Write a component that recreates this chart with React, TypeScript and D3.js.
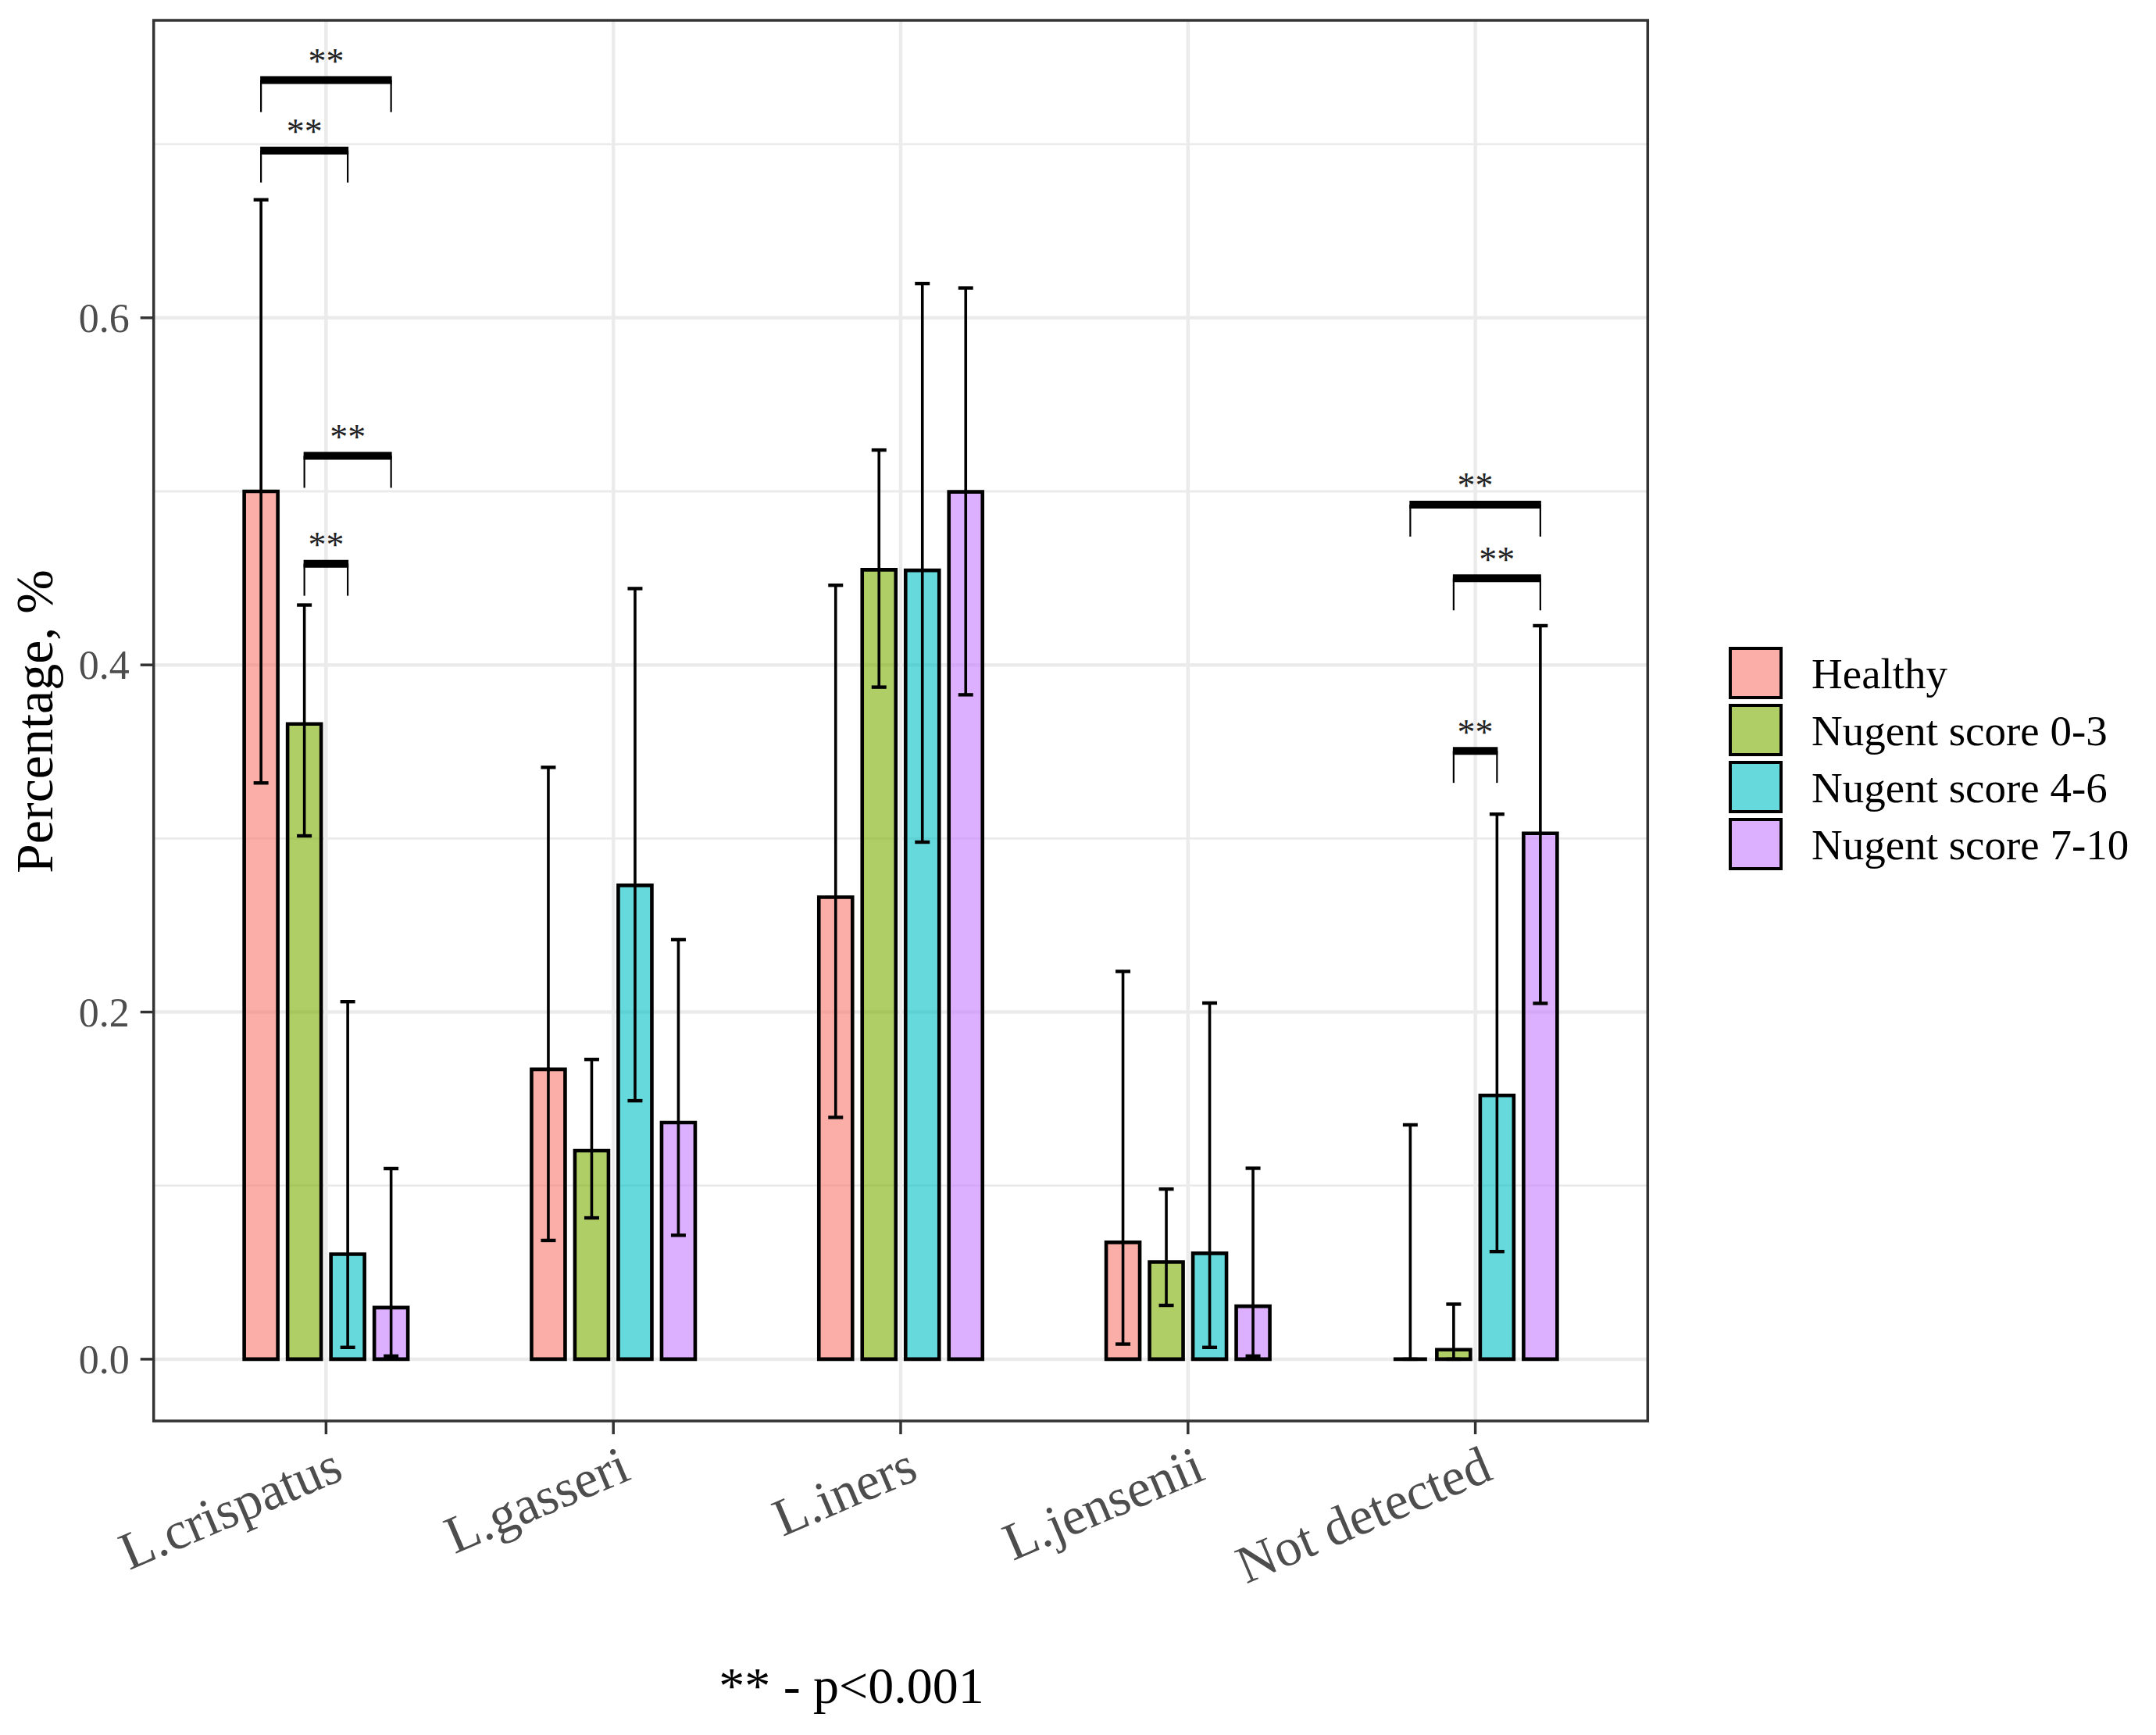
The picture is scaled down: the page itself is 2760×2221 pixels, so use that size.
import * as d3 from "d3";

// categories on the x axis
const categories = ["L.crispatus", "L.gasseri", "L.iners", "L.jensenii", "Not detected"];
// groups (fill legend)
const groups = ["Healthy", "Nugent score 0-3", "Nugent score 4-6", "Nugent score 7-10"];
const groupColors = ["#F8766D", "#7CAE00", "#00BFC4", "#C77CFF"];

// bar heights, one array per group, in category order
const healthy = [0.5, 0.167, 0.2662, 0.0673, 0];
const nugent03 = [0.366, 0.1201, 0.4548, 0.056, 0.0055];
const nugent46 = [0.0605, 0.273, 0.4545, 0.061, 0.152];
const nugent710 = [0.0297, 0.1363, 0.4997, 0.0305, 0.303];

// error bar limits
const healthyLow = [0.332, 0.0684, 0.1393, 0.0087, 0];
const healthyHigh = [0.668, 0.341, 0.4459, 0.2234, 0.135];
const nugent03Low = [0.3015, 0.0814, 0.3872, 0.031, 0];
const nugent03High = [0.4345, 0.1727, 0.5238, 0.098, 0.0317];
const nugent46Low = [0.0068, 0.1489, 0.2979, 0.0068, 0.062];
const nugent46High = [0.206, 0.444, 0.6197, 0.2052, 0.314];
const nugent710Low = [0.0018, 0.0714, 0.3828, 0.0018, 0.205];
const nugent710High = [0.1098, 0.2417, 0.6172, 0.11, 0.4226];

const values = [healthy, nugent03, nugent46, nugent710];
const lows = [healthyLow, nugent03Low, nugent46Low, nugent710Low];
const highs = [healthyHigh, nugent03High, nugent46High, nugent710High];

// significance brackets: category, from group, to group, height, label
const brackets = [
  { cat: "L.crispatus", from: "Healthy", to: "Nugent score 7-10", y: 0.737, label: "**" },
  { cat: "L.crispatus", from: "Healthy", to: "Nugent score 4-6", y: 0.6964, label: "**" },
  { cat: "L.crispatus", from: "Nugent score 0-3", to: "Nugent score 7-10", y: 0.5205, label: "**" },
  { cat: "L.crispatus", from: "Nugent score 0-3", to: "Nugent score 4-6", y: 0.4583, label: "**" },
  { cat: "Not detected", from: "Healthy", to: "Nugent score 7-10", y: 0.4924, label: "**" },
  { cat: "Not detected", from: "Nugent score 0-3", to: "Nugent score 7-10", y: 0.4499, label: "**" },
  { cat: "Not detected", from: "Nugent score 0-3", to: "Nugent score 4-6", y: 0.3505, label: "**" },
];

const majorTicks = [0, 0.2, 0.4, 0.6];
const minorTicks = [0.1, 0.3, 0.5, 0.7];

const W = 2760;
const H = 2221;
const FONT = "'Liberation Serif', 'Times New Roman', serif";

export default function App() {
  const panel = { left: 196.7, right: 2109.3, top: 26, bottom: 1819 };
  const step = (panel.right - panel.left) / 5.2;

  const x = d3
    .scalePoint<string>()
    .domain(categories)
    .range([panel.left + 0.6 * step, panel.right - 0.6 * step]);
  const xInner = d3.scaleBand<string>().domain(groups).range([-111, 111]);
  const y = d3.scaleLinear().domain([-0.0356, 0.7714]).range([panel.bottom, panel.top]);

  const barW = 43;
  const capW = 19;
  const gx = (cat: string, g: string) => (x(cat) ?? 0) + (xInner(g) ?? 0) + xInner.bandwidth() / 2;

  return (
    <svg
      width={W}
      height={H}
      style={{ position: "absolute", left: 0, top: 0, background: "#fff" }}
      fontFamily={FONT}
    >
      <rect width={W} height={H} fill="#fff" />

      {/* grid */}
      {minorTicks.map((t) => (
        <line key={"mn" + t} x1={panel.left} x2={panel.right} y1={y(t)} y2={y(t)} stroke="#ebebeb" strokeWidth={2.8} />
      ))}
      {majorTicks.map((t) => (
        <line key={"mj" + t} x1={panel.left} x2={panel.right} y1={y(t)} y2={y(t)} stroke="#ebebeb" strokeWidth={4.5} />
      ))}
      {categories.map((c) => (
        <line key={"vg" + c} x1={x(c)} x2={x(c)} y1={panel.top} y2={panel.bottom} stroke="#ebebeb" strokeWidth={4.5} />
      ))}

      {/* bars */}
      {groups.map((g, gi) =>
        categories.map((c, ci) => {
          const cx = gx(c, g);
          const y0 = y(0);
          const y1 = y(values[gi][ci]);
          const p = d3.path();
          p.moveTo(cx - barW / 2, y0);
          p.lineTo(cx - barW / 2, y1);
          p.lineTo(cx + barW / 2, y1);
          p.lineTo(cx + barW / 2, y0);
          p.closePath();
          return (
            <path
              key={"b" + gi + ci}
              d={p.toString()}
              fill={groupColors[gi]}
              fillOpacity={0.6}
              stroke="#000"
              strokeWidth={4.6}
            />
          );
        })
      )}

      {/* error bars */}
      {groups.map((g, gi) =>
        categories.map((c, ci) => {
          const cx = gx(c, g);
          const lo = y(lows[gi][ci]);
          const hi = y(highs[gi][ci]);
          return (
            <g key={"e" + gi + ci} stroke="#000" strokeWidth={3.6}>
              <line x1={cx} x2={cx} y1={lo} y2={hi} />
              <line x1={cx - capW / 2} x2={cx + capW / 2} y1={hi} y2={hi} strokeWidth={4.4} />
              <line x1={cx - capW / 2} x2={cx + capW / 2} y1={lo} y2={lo} strokeWidth={4.4} />
            </g>
          );
        })
      )}

      {/* significance brackets */}
      {brackets.map((b, i) => {
        const x1 = gx(b.cat, b.from);
        const x2 = gx(b.cat, b.to);
        const by = y(b.y);
        return (
          <g key={"s" + i}>
            <line x1={x1} x2={x1} y1={by} y2={by + 41} stroke="#000" strokeWidth={2.2} />
            <line x1={x2} x2={x2} y1={by} y2={by + 41} stroke="#000" strokeWidth={2.2} />
            <line x1={x1 - 1} x2={x2 + 1} y1={by} y2={by} stroke="#000" strokeWidth={10} />
            <text x={(x1 + x2) / 2} y={by - 8.5} textAnchor="middle" fontSize={46} fill="#222">
              {b.label}
            </text>
          </g>
        );
      })}

      {/* panel border */}
      <rect
        x={panel.left}
        y={panel.top}
        width={panel.right - panel.left}
        height={panel.bottom - panel.top}
        fill="none"
        stroke="#333"
        strokeWidth={3.5}
      />

      {/* y axis */}
      {majorTicks.map((t) => (
        <g key={"yt" + t}>
          <line x1={panel.left - 17} x2={panel.left} y1={y(t)} y2={y(t)} stroke="#333" strokeWidth={3.5} />
          <text x={panel.left - 31} y={y(t)} dy="0.35em" textAnchor="end" fontSize={52} fill="#4d4d4d">
            {d3.format(".1f")(t)}
          </text>
        </g>
      ))}
      <text
        transform={`translate(67, ${(panel.top + panel.bottom) / 2 + 1}) rotate(-90)`}
        textAnchor="middle"
        fontSize={68}
        fill="#000"
      >
        Percentage, %
      </text>

      {/* x axis */}
      {categories.map((c) => {
        const tx = x(c) ?? 0;
        const ax = tx + 6;
        const ay = panel.bottom + 30;
        return (
          <g key={"xt" + c}>
            <line x1={tx} x2={tx} y1={panel.bottom} y2={panel.bottom + 17} stroke="#333" strokeWidth={3.5} />
            <text
              x={ax}
              y={ay}
              dy="0.7em"
              textAnchor="end"
              fontSize={68}
              fill="#4d4d4d"
              transform={`rotate(-23, ${ax}, ${ay})`}
            >
              {c}
            </text>
          </g>
        );
      })}

      {/* legend */}
      {groups.map((g, gi) => {
        const top = 830 + gi * 73;
        return (
          <g key={"lg" + g}>
            <rect x={2215} y={top} width={65} height={63} fill={groupColors[gi]} fillOpacity={0.6} stroke="#000" strokeWidth={4} />
            <text x={2319} y={top + 31.5} dy="0.36em" fontSize={55} fill="#000">
              {g}
            </text>
          </g>
        );
      })}

      {/* footnote */}
      <text x={1090} y={2180} textAnchor="middle" fontSize={66} fill="#000">
        ** - p&lt;0.001
      </text>
    </svg>
  );
}
